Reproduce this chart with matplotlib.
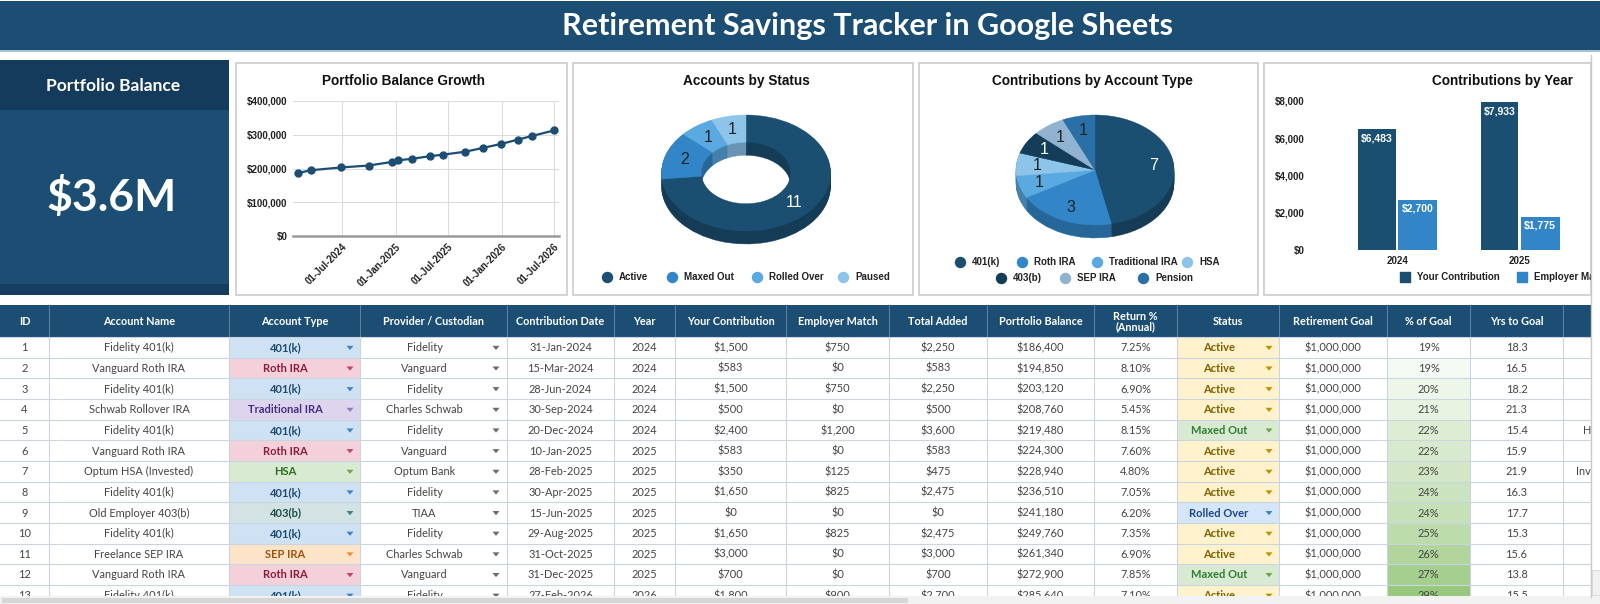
import numpy as np
import pandas as pd
import matplotlib
matplotlib.use("Agg")
import matplotlib.pyplot as plt
import matplotlib.dates as mdates
from matplotlib.patches import Rectangle, Wedge, Polygon
from matplotlib.transforms import Affine2D
from matplotlib.ticker import FuncFormatter
from matplotlib.colors import to_rgb, LinearSegmentedColormap

############################################
# DATA
############################################

ids = [1, 2, 3, 4, 5, 6, 7, 8, 9, 10, 11, 12, 13]
account_names = ["Fidelity 401(k)", "Vanguard Roth IRA", "Fidelity 401(k)", "Schwab Rollover IRA",
                 "Fidelity 401(k)", "Vanguard Roth IRA", "Optum HSA (Invested)", "Fidelity 401(k)",
                 "Old Employer 403(b)", "Fidelity 401(k)", "Freelance SEP IRA", "Vanguard Roth IRA",
                 "Fidelity 401(k)"]
account_types = ["401(k)", "Roth IRA", "401(k)", "Traditional IRA", "401(k)", "Roth IRA", "HSA",
                 "401(k)", "403(b)", "401(k)", "SEP IRA", "Roth IRA", "401(k)"]
providers = ["Fidelity", "Vanguard", "Fidelity", "Charles Schwab", "Fidelity", "Vanguard", "Optum Bank",
             "Fidelity", "TIAA", "Fidelity", "Charles Schwab", "Vanguard", "Fidelity"]
contrib_dates = ["31-Jan-2024", "15-Mar-2024", "28-Jun-2024", "30-Sep-2024", "20-Dec-2024", "10-Jan-2025",
                 "28-Feb-2025", "30-Apr-2025", "15-Jun-2025", "29-Aug-2025", "31-Oct-2025", "31-Dec-2025",
                 "27-Feb-2026"]
years = [2024, 2024, 2024, 2024, 2024, 2025, 2025, 2025, 2025, 2025, 2025, 2025, 2026]
your_contrib = [1500, 583, 1500, 500, 2400, 583, 350, 1650, 0, 1650, 3000, 700, 1800]
employer_match = [750, 0, 750, 0, 1200, 0, 125, 825, 0, 825, 0, 0, 900]
total_added = [2250, 583, 2250, 500, 3600, 583, 475, 2475, 0, 2475, 3000, 700, 2700]
balances = [186400, 194850, 203120, 208760, 219480, 224300, 228940, 236510, 241180, 249760,
            261340, 272900, 285640]
returns = [7.25, 8.10, 6.90, 5.45, 8.15, 7.60, 4.80, 7.05, 6.20, 7.35, 6.90, 7.85, 7.10]
statuses = ["Active", "Active", "Active", "Active", "Maxed Out", "Active", "Active", "Active",
            "Rolled Over", "Active", "Active", "Maxed Out", "Active"]
goals = [1000000] * 13
pct_goal = [19, 19, 20, 21, 22, 22, 23, 24, 24, 25, 26, 27, 29]
yrs_to_goal = [18.3, 16.5, 18.2, 21.3, 15.4, 15.9, 21.9, 16.3, 17.7, 15.3, 15.6, 13.8, 15.5]
notes_tail = ["", "", "", "", "H", "", "Inv", "", "", "", "", "", ""]

growth_dates = ["2024-01-31", "2024-03-15", "2024-06-28", "2024-09-30", "2024-12-20", "2025-01-10",
                "2025-02-28", "2025-04-30", "2025-06-15", "2025-08-29", "2025-10-31", "2025-12-31",
                "2026-02-27", "2026-04-15", "2026-06-30"]
growth_balances = [186400, 194850, 203120, 208760, 219480, 224300, 228940, 236510, 241180, 249760,
                   261340, 272900, 285640, 296200, 312600]

status_labels = ["Active", "Maxed Out", "Rolled Over", "Paused"]
status_counts = [11, 2, 1, 1]

type_labels = ["401(k)", "Roth IRA", "Traditional IRA", "HSA", "403(b)", "SEP IRA", "Pension"]
type_counts = [7, 3, 1, 1, 1, 1, 1]

bar_years = ["2024", "2025"]
your_by_year = [6483, 7933]
employer_by_year = [2700, 1775]

portfolio_total = "$3.6M"

############################################
# STYLE
############################################

W, H = 1600, 604
NAVY = "#1c4e74"
NAVY_DARK = "#143a5c"
GRID = "#c9d6e2"
TXT = "#444444"
UI = ["Lato", "DejaVu Sans"]
ARIAL = ["Liberation Sans", "DejaVu Sans"]

STATUS_COLORS = ["#1b4f72", "#3286c8", "#5aa9e0", "#8cc4ea"]
TYPE_COLORS = ["#1b4f72", "#3286c8", "#5aa9e0", "#8cc4ea", "#143d59", "#8fb3d0", "#2a6fa5"]
YOUR_C, EMP_C = "#1b4f72", "#3286c8"

TYPE_STYLE = {
    "401(k)": ("#cfe2f3", "#1c4a72", "#3d85c6"),
    "Roth IRA": ("#f4d0db", "#8c1c3f", "#c2456e"),
    "Traditional IRA": ("#ddd5ee", "#4b2c84", "#8e7cc3"),
    "HSA": ("#d9ead3", "#2f6b1f", "#6aa84f"),
    "403(b)": ("#d3e3e3", "#1f4d4d", "#3f7f7f"),
    "SEP IRA": ("#fde3c8", "#a0530a", "#e69138"),
}
STATUS_STYLE = {
    "Active": ("#fff2cc", "#7f6000", "#bf9000"),
    "Maxed Out": ("#d9ead3", "#2e7d32", "#6aa84f"),
    "Rolled Over": ("#d4e6f7", "#1c4587", "#3d85c6"),
}


def shade(c, f):
    r, g, b = to_rgb(c)
    return (r * f, g * f, b * f)


def money(v):
    return f"${v:,.0f}"


fig = plt.figure(figsize=(W / 100, H / 100), dpi=100)
fig.patch.set_facecolor("white")
cv = fig.add_axes([0, 0, 1, 1])
cv.set_xlim(0, W)
cv.set_ylim(H, 0)
cv.axis("off")


def ax_at(x0, y0, x1, y1):
    a = fig.add_axes([x0 / W, 1 - y1 / H, (x1 - x0) / W, (y1 - y0) / H])
    a.set_facecolor("none")
    return a


def rect(x, y, w, h, **kw):
    cv.add_patch(Rectangle((x, y), w, h, **kw))


def arrow(x, y, color):
    cv.add_patch(Polygon([(x - 3.5, y - 2), (x + 3.5, y - 2), (x, y + 2.2)], closed=True,
                         facecolor=color, edgecolor="none", zorder=4))


############################################
# HEADER + KPI CARD
############################################

rect(0, 1, W, 49, facecolor=NAVY, edgecolor="none")
rect(0, 50, W, 2, facecolor="#a9c1d6", edgecolor="none")
cv.text(868, 26, "Retirement Savings Tracker in Google Sheets", color="white", fontsize=22,
        fontweight="bold", family=UI, ha="center", va="center")

rect(0, 60, 229, 235, facecolor=NAVY, edgecolor="none")
rect(0, 60, 229, 50, facecolor=NAVY_DARK, edgecolor="none")
rect(0, 284, 229, 11, facecolor="#163d5f", edgecolor="none")
cv.text(113, 86, "Portfolio Balance", color="white", fontsize=12.5, fontweight="bold", family=UI,
        ha="center", va="center")
cv.text(112, 197, portfolio_total, color="white", fontsize=32, fontweight="bold", family=UI,
        ha="center", va="center")

for x0, x1 in [(236, 567), (573, 913), (919, 1258), (1264, 1591)]:
    rect(x0, 63, x1 - x0, 232, facecolor="white", edgecolor="#cccccc", lw=1.2)

title_kw = dict(fontsize=9.8, fontweight="bold", family=ARIAL, ha="center", va="center", color="#111111")
cv.text(403, 81, "Portfolio Balance Growth", **title_kw)
cv.text(746, 81, "Accounts by Status", **title_kw)
cv.text(1092, 81, "Contributions by Account Type", **title_kw)
cv.text(1503, 81, "Contributions by Year", **title_kw)

############################################
# LINE CHART
############################################

ax1 = ax_at(293, 101, 559, 236)
gd = pd.to_datetime(growth_dates)
ax1.plot(gd, growth_balances, color=NAVY, lw=1.6, marker="o", ms=5, zorder=3)
ax1.set_ylim(0, 400000)
ax1.set_xlim(pd.Timestamp("2024-01-14"), pd.Timestamp("2026-07-18"))
ax1.set_yticks(range(0, 400001, 100000))
ax1.yaxis.set_major_formatter(FuncFormatter(lambda v, p: money(v)))
ax1.set_xticks(pd.to_datetime(["2024-07-01", "2025-01-01", "2025-07-01", "2026-01-01", "2026-07-01"]))
ax1.xaxis.set_major_formatter(mdates.DateFormatter("%d-%b-%Y"))
ax1.grid(color="#dcdcdc", lw=0.8)
for s in ax1.spines.values():
    s.set_visible(False)
ax1.axhline(0, color="#9a9a9a", lw=1.8, clip_on=False, zorder=2)
ax1.tick_params(length=0, labelsize=7, pad=4, colors="#222222")
for lab in ax1.get_yticklabels():
    lab.set_fontweight("bold")
    lab.set_family(ARIAL)
for lab in ax1.get_xticklabels():
    lab.set_rotation(45)
    lab.set_ha("right")
    lab.set_rotation_mode("anchor")
    lab.set_fontweight("bold")
    lab.set_family(ARIAL)

############################################
# 3D PIES
############################################


def draw_3d_pie(cx, cy, rx, ry, depth, values, colors, inner=0.0):
    total = float(sum(values))
    starts = np.cumsum([0] + list(values))[:-1] / total * 360
    spans = np.array(values) / total * 360
    for k in range(depth, -1, -1):
        tr = Affine2D().scale(rx, -ry).translate(cx, cy + k) + cv.transData
        for s, sp, c in zip(starts, spans, colors):
            fc = c if k == 0 else shade(c, 0.76)
            cv.add_patch(Wedge((0, 0), 1, 90 - s - sp, 90 - s,
                               width=None if inner == 0 else 1 - inner,
                               facecolor=fc, edgecolor=fc, lw=0.3, transform=tr))
    return starts, spans


def pie_labels(cx, cy, rx, ry, r, starts, spans, values, colors, fs):
    for s, sp, v, c in zip(starts, spans, values, colors):
        th = np.deg2rad(90 - (s + sp / 2))
        lum = np.dot(to_rgb(c), [0.299, 0.587, 0.114])
        cv.text(cx + r * rx * np.cos(th), cy - r * ry * np.sin(th), str(v), fontsize=fs,
                family=ARIAL, ha="center", va="center",
                color="white" if lum < 0.3 else "#222222", zorder=5)


st, sp = draw_3d_pie(746, 173, 84.5, 58, 13, status_counts, STATUS_COLORS, inner=0.53)
pie_labels(746, 173, 84.5, 58, 0.765, st, sp, status_counts, STATUS_COLORS, 11.5)

st, sp = draw_3d_pie(1095, 170, 79, 55, 13, type_counts, TYPE_COLORS)
pie_labels(1095, 170, 79, 55, 0.74, st, sp, type_counts, TYPE_COLORS, 11.5)

leg_kw = dict(fontsize=7, fontweight="bold", family=ARIAL, ha="left", va="center", color="#222222")
for x, lab, c in zip([607, 672, 757, 843], status_labels, STATUS_COLORS):
    cv.scatter([x], [277], s=52, color=c, zorder=5)
    cv.text(x + 12, 277, lab, **leg_kw)

type_leg_pos = [(960, 262), (1022, 262), (1097, 262), (1187, 262), (1001, 278), (1065, 278), (1143, 278)]
for (x, y), lab, c in zip(type_leg_pos, type_labels, TYPE_COLORS):
    cv.scatter([x], [y], s=52, color=c, zorder=5)
    cv.text(x + 12, y, lab, **leg_kw)

############################################
# BAR CHART
############################################

ax4 = ax_at(1316, 101, 1590, 250)
xb = np.arange(len(bar_years))
b1 = ax4.bar(xb - 0.165, your_by_year, width=0.305, color=YOUR_C)
b2 = ax4.bar(xb + 0.165, employer_by_year, width=0.315, color=EMP_C)
for bars, vals in [(b1, your_by_year), (b2, employer_by_year)]:
    for b, v in zip(bars, vals):
        ax4.annotate(money(v), (b.get_x() + b.get_width() / 2, v), xytext=(0, -9),
                     textcoords="offset pixels", ha="center", va="center", color="white",
                     fontsize=7.5, fontweight="bold", family=ARIAL)
ax4.set_xlim(-0.66, 1.57)
ax4.set_ylim(0, 8000)
ax4.set_yticks(range(0, 8001, 2000))
ax4.yaxis.set_major_formatter(FuncFormatter(lambda v, p: money(v)))
ax4.set_xticks(xb)
ax4.set_xticklabels(bar_years)
for s in ax4.spines.values():
    s.set_visible(False)
ax4.tick_params(length=0, labelsize=7, colors="#222222")
ax4.tick_params(axis="y", pad=8)
ax4.tick_params(axis="x", pad=4)
for lab in ax4.get_yticklabels() + ax4.get_xticklabels():
    lab.set_fontweight("bold")
    lab.set_family(ARIAL)

for x, lab, c in zip([1405, 1522], ["Your Contribution", "Employer Match"], [YOUR_C, EMP_C]):
    cv.scatter([x], [277], s=60, marker="s", color=c, zorder=5)
    cv.text(x + 12, 277, lab, **leg_kw)

############################################
# TABLE
############################################

col_x = [0, 49, 229, 360, 507, 614, 675, 786, 889, 987, 1094, 1177, 1279, 1387, 1470, 1563, 1591]
headers = ["ID", "Account Name", "Account Type", "Provider / Custodian", "Contribution Date", "Year",
           "Your Contribution", "Employer Match", "Total Added", "Portfolio Balance", "Return %\n(Annual)",
           "Status", "Retirement Goal", "% of Goal", "Yrs to Goal", ""]
HEAD_TOP, HEAD_BOT, ROW_H = 305, 337, 20.65

rect(0, HEAD_TOP, col_x[-1], HEAD_BOT - HEAD_TOP, facecolor=NAVY, edgecolor="none")
for i, h in enumerate(headers):
    cx = (col_x[i] + col_x[i + 1]) / 2
    cv.text(cx, (HEAD_TOP + HEAD_BOT) / 2 + 0.5, h, color="white", fontsize=7.8, fontweight="bold",
            family=UI, ha="center", va="center", linespacing=0.95)
    if i > 0:
        cv.plot([col_x[i]] * 2, [HEAD_TOP, HEAD_BOT], color="#5d83a6", lw=0.7)

goal_cmap = LinearSegmentedColormap.from_list("goal", ["#ffffff", "#7cb95a"])
gmin, gmax = min(growth_balances), max(growth_balances)

for r in range(len(ids)):
    y0 = HEAD_BOT + r * ROW_H
    yc = y0 + ROW_H / 2 + 0.5
    cells = [str(ids[r]), account_names[r], account_types[r], providers[r], contrib_dates[r],
             str(years[r]), money(your_contrib[r]), money(employer_match[r]), money(total_added[r]),
             money(balances[r]), f"{returns[r]:.2f}%", statuses[r], money(goals[r]),
             f"{pct_goal[r]}%", f"{yrs_to_goal[r]:.1f}"]
    for c, val in enumerate(cells):
        x0, x1 = col_x[c], col_x[c + 1]
        cx = (x0 + x1) / 2
        kw = dict(fontsize=7.9, family=UI, ha="center", va="center", color=TXT)
        if c == 2 or c == 11:
            bg, fg, ac = (TYPE_STYLE if c == 2 else STATUS_STYLE)[val]
            rect(x0, y0, x1 - x0, ROW_H, facecolor=bg, edgecolor="none")
            kw.update(color=fg, fontweight="bold", fontsize=8)
            cv.text(cx - 9, yc, val, **kw)
            arrow(x1 - 10, yc, ac)
            continue
        if c == 3:
            cv.text(cx - 9, yc, val, **kw)
            arrow(x1 - 11, yc, "#6b6b6b")
            continue
        if c == 13:
            frac = (balances[r] - gmin) / (gmax - gmin)
            rect(x0, y0, x1 - x0, ROW_H, facecolor=goal_cmap(frac), edgecolor="none")
        cv.text(cx, yc, val, **kw)
    if notes_tail[r]:
        cv.text(col_x[-1], yc, notes_tail[r], fontsize=7.9, family=UI, ha="right", va="center", color=TXT)

for r in range(len(ids) + 1):
    y = HEAD_BOT + r * ROW_H
    cv.plot([0, col_x[-1]], [y, y], color=GRID, lw=0.8, zorder=3)
for x in col_x[1:]:
    cv.plot([x, x], [HEAD_BOT, 597], color=GRID, lw=0.8, zorder=3)

# masks: bottom scroll bar and right edge
rect(0, 596, W, 8, facecolor="#f2f2f2", edgecolor="none", zorder=10)
rect(2, 598, 906, 5, facecolor="#d6d6d6", edgecolor="none", zorder=11)
rect(1592, 55, 8, 541, facecolor="white", edgecolor="none", zorder=10)
cv.plot([1591, 1591], [55, 597], color="#c9c9c9", lw=1, zorder=11)
rect(1592, 570, 8, 25, facecolor="#f1f1f1", edgecolor="#d0d0d0", lw=0.5, zorder=11)

fig.savefig("out.png", dpi=100, facecolor="white")
